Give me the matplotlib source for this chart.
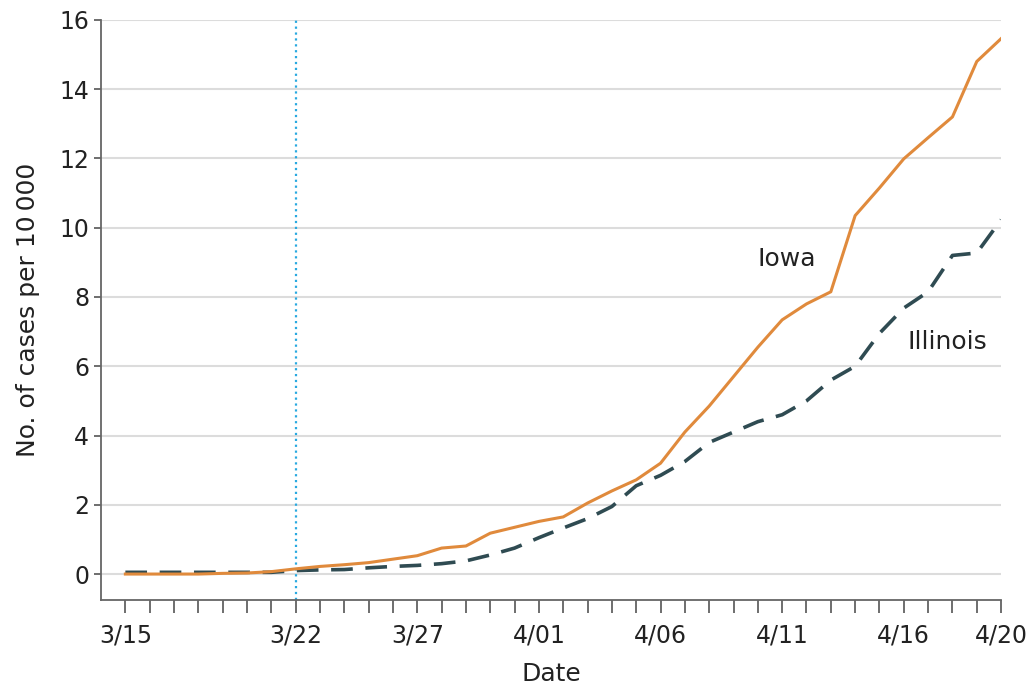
import matplotlib.pyplot as plt
import numpy as np

# dados (casos por 10 000), 3/15 ate 4/20
dias = np.arange(37)
iowa = [0, 0, 0, 0, 0.02, 0.03, 0.07, 0.15, 0.22, 0.27, 0.33, 0.43, 0.53, 0.75, 0.81,
        1.18, 1.35, 1.52, 1.65, 2.05, 2.4, 2.72, 3.2, 4.1, 4.85, 5.7, 6.55, 7.34, 7.8,
        8.15, 10.35, 11.15, 11.99, 12.6, 13.2, 14.8, 15.46]
illinois = [0.05, 0.05, 0.05, 0.05, 0.05, 0.05, 0.05, 0.1, 0.12, 0.13, 0.18, 0.22, 0.25,
            0.3, 0.38, 0.55, 0.75, 1.05, 1.33, 1.6, 1.95, 2.55, 2.85, 3.25, 3.8, 4.1, 4.4,
            4.6, 5.0, 5.6, 6.0, 6.95, 7.68, 8.15, 9.2, 9.27, 10.23]
tick_pos = [0, 7, 12, 17, 22, 27, 32, 36]
tick_lab = ['3/15', '3/22', '3/27', '4/01', '4/06', '4/11', '4/16', '4/20']

fig = plt.figure(figsize=(10.31, 6.87), dpi=100)
ax = fig.add_axes([0.098, 0.1266, 0.873, 0.8444])

for v in range(0, 17, 2):
    ax.axhline(v, color='#dcdcdc', linewidth=1.5, zorder=0)

ax.axvline(7, color='#29a9e0', linestyle=':', linewidth=1.6, zorder=1)

ax.plot(dias, illinois, color='#2f4b52', linewidth=2.6, dashes=(6, 3.5), zorder=2)
ax.plot(dias, iowa, color='#e08a3c', linewidth=2.2, zorder=3)

ax.text(27.2, 9.1, 'Iowa', fontsize=18, color='#222222', ha='center', va='center')
ax.text(33.8, 6.7, 'Illinois', fontsize=18, color='#222222', ha='center', va='center')

ax.set_xlim(-1, 36)
ax.set_ylim(-0.75, 16)
ax.set_xticks(dias, minor=True)
ax.set_xticks(tick_pos)
ax.set_xticklabels(tick_lab)
ax.set_yticks(range(0, 17, 2))
ax.tick_params(axis='both', labelsize=17, colors='#333333', labelcolor='#222222')
ax.tick_params(axis='x', which='both', length=9, width=1.2, color='#555555', pad=8)
ax.tick_params(axis='y', length=5, width=1.2, color='#555555')

for s in ['top', 'right']:
    ax.spines[s].set_visible(False)
for s in ['left', 'bottom']:
    ax.spines[s].set_color('#666666')
    ax.spines[s].set_linewidth(1.3)

ax.set_xlabel('Date', fontsize=18, color='#222222', labelpad=10)
ax.set_ylabel('No. of cases per 10\u2009000', fontsize=18, color='#222222', labelpad=14)

fig.savefig('out.png', dpi=100)
